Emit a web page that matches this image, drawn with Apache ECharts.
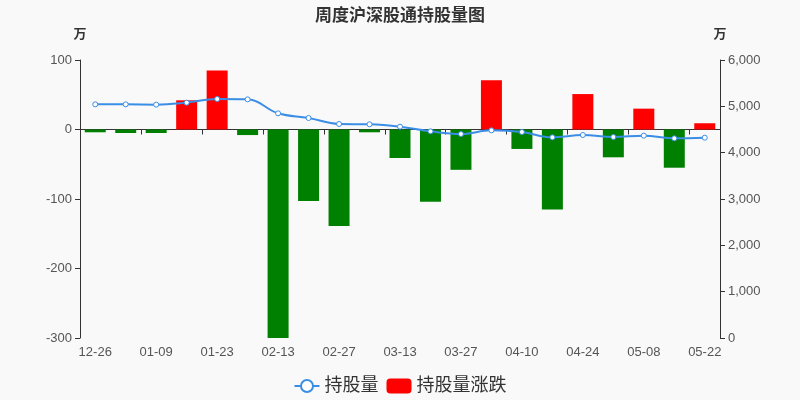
<!DOCTYPE html>
<html>
<head>
<meta charset="utf-8">
<script src="https://cdn.jsdelivr.net/npm/echarts@6/dist/echarts.min.js"></script>
<style>
html,body{margin:0;padding:0;background:#f9f9f9;}
#c{width:800px;height:400px;}
</style>
</head>
<body>
<div id="c"></div>
<script>
var categories = ['12-26','01-02','01-09','01-16','01-23','02-06','02-13','02-20','02-27','03-06','03-13','03-20','03-27','04-03','04-10','04-17','04-24','05-01','05-08','05-15','05-22'];
var holdings = [5043,5043,5036,5080,5158,5151,4849,4748,4619,4612,4561,4460,4403,4482,4446,4331,4381,4338,4367,4309,4323];
var changes = [-4,-5,-5,42,85,-8,-300,-103,-139,-4,-41,-104,-58,71,-28,-115,51,-40,30,-55,9];
var leftTicks = {min:-300, max:100, interval:100};
var rightTicks = {min:0, max:6000, interval:1000};

var FONT = '"Liberation Sans","Noto Sans CJK SC",sans-serif';
var chart = echarts.init(document.getElementById('c'), null, {renderer:'canvas'});
chart.setOption({
  backgroundColor:'#f9f9f9',
  textStyle:{fontFamily:FONT},
  title:{text:'周度沪深股通持股量图', left:'center', top:3,
    textStyle:{fontSize:17, fontWeight:'bold', color:'#333', fontFamily:FONT}},
  legend:{bottom:0, left:'center', itemGap:8, itemWidth:25, itemHeight:15,
    textStyle:{fontSize:18, color:'#333', fontFamily:FONT},
    data:[{name:'持股量'},{name:'持股量涨跌', icon:'roundRect', itemStyle:{color:'#ff0000'}}]},
  grid:{left:80, right:80, top:60, bottom:62},
  xAxis:[
    {type:'category', data:categories, position:'bottom',
      axisLine:{show:false, onZero:false}, axisTick:{show:false},
      axisLabel:{color:'#555', fontSize:13, margin:8, fontFamily:FONT}},
    {type:'category', data:categories, position:'bottom',
      axisLine:{show:true, onZero:true, onZeroAxisIndex:0, lineStyle:{color:'#333'}},
      axisTick:{show:true, lineStyle:{color:'#333'}},
      axisLabel:{show:false}}
  ],
  yAxis:[
    {type:'value', name:'万', min:leftTicks.min, max:leftTicks.max, interval:leftTicks.interval,
      nameTextStyle:{color:'#333', fontSize:13, fontWeight:'bold', align:'center', padding:[0,0,4,0]},
      axisLine:{show:true, lineStyle:{color:'#333'}}, axisTick:{show:true},
      axisLabel:{color:'#555', fontSize:13, fontFamily:FONT}, splitLine:{show:false}},
    {type:'value', name:'万', min:rightTicks.min, max:rightTicks.max, interval:rightTicks.interval,
      nameTextStyle:{color:'#333', fontSize:13, fontWeight:'bold', align:'center', padding:[0,0,4,0]},
      axisLine:{show:true, lineStyle:{color:'#333'}}, axisTick:{show:true},
      axisLabel:{color:'#555', fontSize:13, fontFamily:FONT}, splitLine:{show:false}}
  ],
  series:[
    {name:'持股量', type:'line', yAxisIndex:1, xAxisIndex:0, data:holdings, smooth:0.4,
      symbol:'circle', symbolSize:5, showSymbol:true, z:5,
      lineStyle:{color:'#3a8ee6', width:2},
      itemStyle:{color:'#fff', borderColor:'#3a8ee6', borderWidth:1}},
    {name:'持股量涨跌', type:'bar', yAxisIndex:0, xAxisIndex:0, data:changes, barWidth:21, z:2,
      itemStyle:{color:function(p){return p.value>=0?'#ff0000':'#008000';}}}
  ],
  color:['#3a8ee6','#ff0000']
});
</script>
</body>
</html>
